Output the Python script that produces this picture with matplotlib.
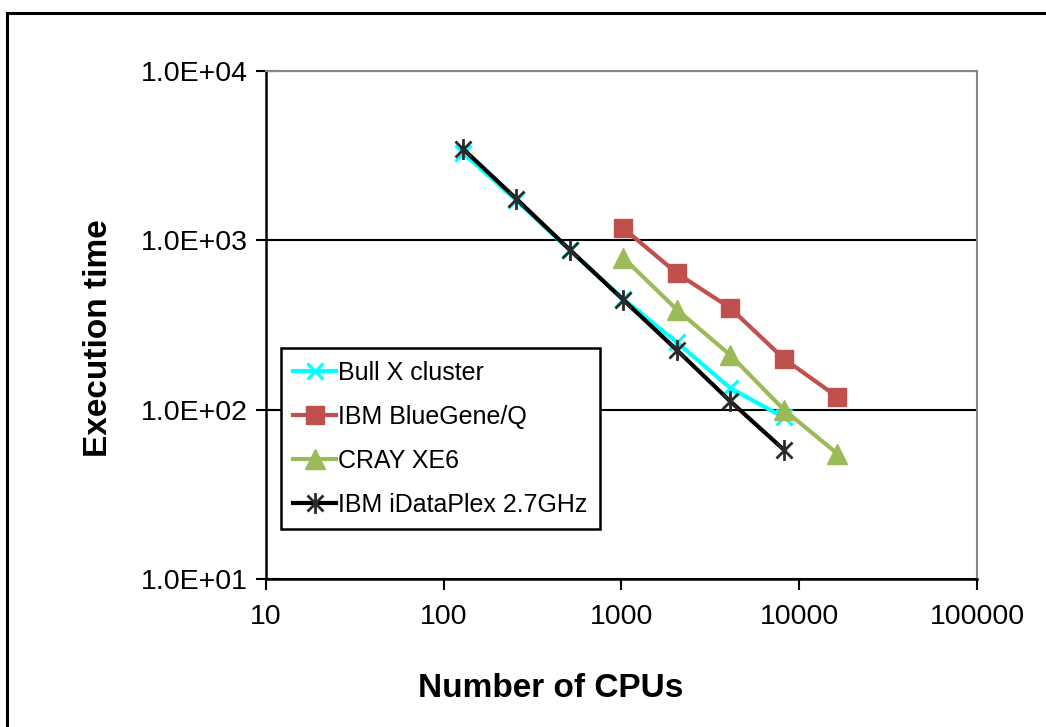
import numpy as np
import matplotlib
matplotlib.use("Agg")
import matplotlib.pyplot as plt
from matplotlib.path import Path
from matplotlib.patches import Rectangle

plt.rcParams['font.family'] = ['Liberation Sans', 'DejaVu Sans']

# Data
cpus_small = [128, 256, 512, 1024, 2048, 4096, 8192]
cpus_large = [1024, 2048, 4096, 8192, 16384]

bull_x = [3300, 1720, 875, 450, 250, 134, 90]
bluegene_q = [1180, 640, 398, 200, 119]
cray_xe6 = [790, 390, 210, 100, 55]
idataplex = [3480, 1760, 880, 445, 225, 112, 58]

x_ticks = [10, 100, 1000, 10000, 100000]
y_ticks = [10, 100, 1000, 10000]
y_tick_labels = ["1.0E+01", "1.0E+02", "1.0E+03", "1.0E+04"]

# Excel style "star" marker: an X with a vertical bar through it
star = Path([(-1, -1), (1, 1), (-1, 1), (1, -1), (0, -1.3), (0, 1.3)],
            [Path.MOVETO, Path.LINETO, Path.MOVETO, Path.LINETO, Path.MOVETO, Path.LINETO])

fig = plt.figure(figsize=(10.46, 7.27), dpi=100)
ax = fig.add_axes([0.2543, 0.2036, 0.6797, 0.6987])

# Border round the whole chart
fig.patches.append(Rectangle((6.5 / 1046, -0.05), 1.2, (727 - 13) / 727 + 0.05,
                             transform=fig.transFigure, fill=False,
                             edgecolor='black', linewidth=2.2))

ax.plot(cpus_small, bull_x, color='#00FFFF', lw=3, marker='x', ms=12, mew=2.2,
        label='Bull X cluster', zorder=3)
ax.plot(cpus_large, bluegene_q, color='#C0504D', lw=3, marker='s', ms=13,
        label='IBM BlueGene/Q', zorder=3)
ax.plot(cpus_large, cray_xe6, color='#9BBB59', lw=3, marker='^', ms=14.5,
        label='CRAY XE6', zorder=3)
ax.plot(cpus_small, idataplex, color='black', lw=3, marker=star, ms=15, mew=2,
        mec='#2a2a2a', label='IBM iDataPlex 2.7GHz', zorder=4)

ax.set_xscale('log')
ax.set_yscale('log')
ax.set_xlim(10, 100000)
ax.set_ylim(10, 10000)

ax.set_xticks(x_ticks)
ax.set_xticklabels([str(v) for v in x_ticks])
ax.set_yticks(y_ticks)
ax.set_yticklabels(y_tick_labels)
ax.minorticks_off()

ax.tick_params(axis='x', direction='out', length=8, width=1.5, labelsize=20.5, pad=10)
ax.tick_params(axis='y', direction='inout', length=14, width=1.5, labelsize=20.5, pad=6)

ax.grid(axis='y', which='major', color='black', lw=1.5)
ax.set_axisbelow(True)

for side in ['left', 'bottom']:
    ax.spines[side].set_linewidth(1.8)
    ax.spines[side].set_color('black')
for side in ['top', 'right']:
    ax.spines[side].set_linewidth(1.5)
    ax.spines[side].set_color('#888888')

ax.set_xlabel('Number of CPUs', fontsize=24, fontweight='bold')
ax.xaxis.set_label_coords(0.401, -0.215)
ax.xaxis.label.set_va('center')
ax.set_ylabel('Execution time', fontsize=24, fontweight='bold')
ax.yaxis.set_label_coords(-0.235, 0.474)
ax.yaxis.label.set_va('center')

leg = ax.legend(loc='lower left', bbox_to_anchor=(0.021, 0.098), borderaxespad=0,
                fontsize=18, frameon=True, fancybox=False, handlelength=1.7,
                handletextpad=0.1, labelspacing=0.8, borderpad=0.5)
leg.get_frame().set_edgecolor('black')
leg.get_frame().set_linewidth(1.8)
leg.get_frame().set_alpha(1)

fig.savefig('out.png', dpi=100)
